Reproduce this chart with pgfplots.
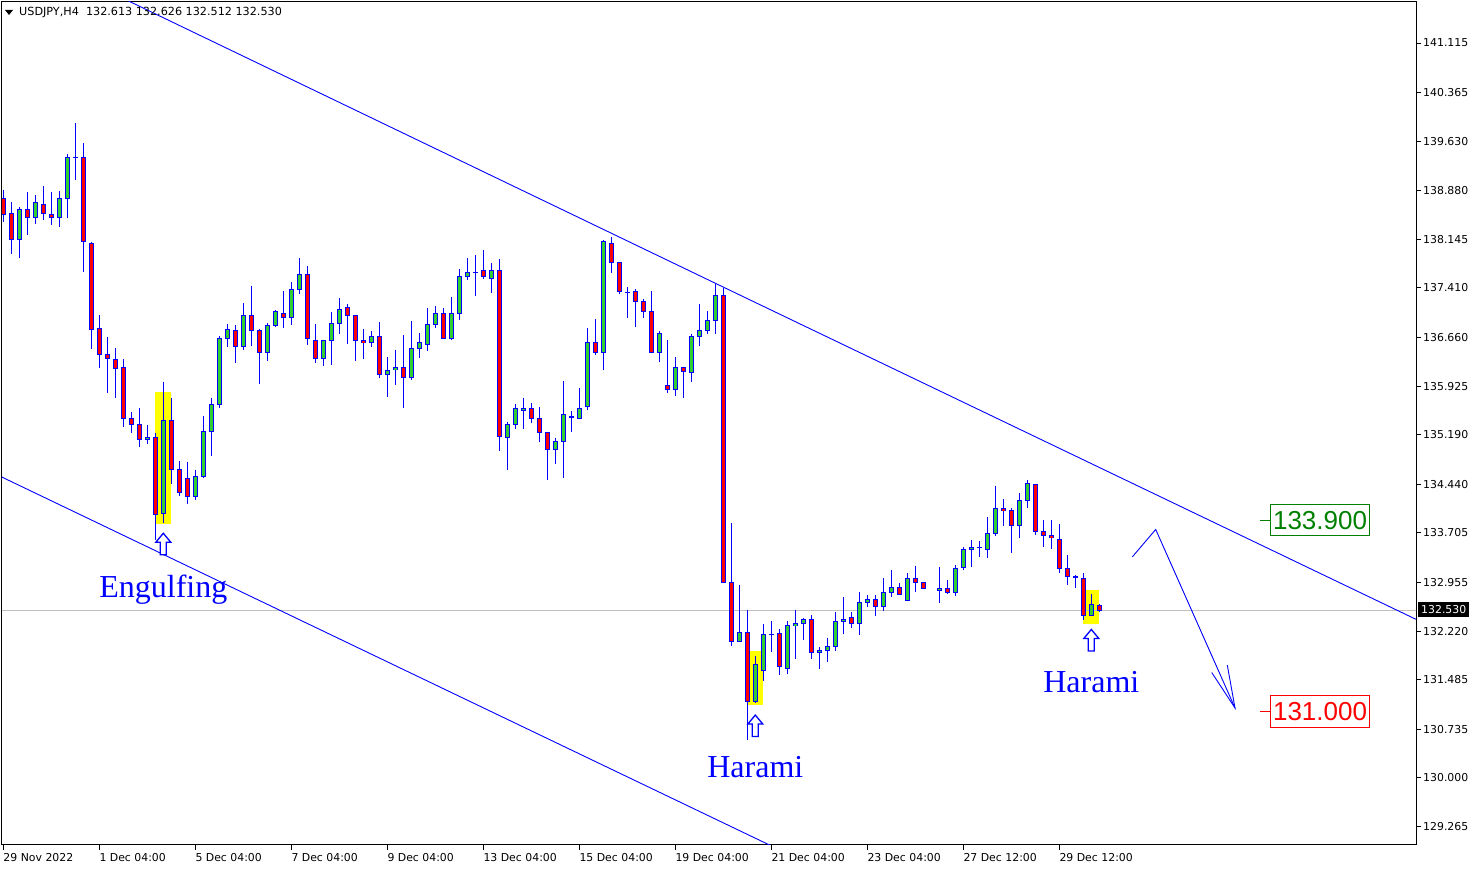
\documentclass[border=0pt]{standalone}
\usepackage{pgfplots}
\usepackage{pgfplotstable}
\pgfplotsset{compat=1.18}
\usepackage{fontspec}
\setmainfont{DejaVu Sans}
\newfontfamily\lib{Liberation Sans}
\newfontfamily\tnr{Liberation Serif}

\definecolor{mtblue}{RGB}{0,0,255}
\definecolor{mtred}{RGB}{255,0,0}
\definecolor{mtgreen}{RGB}{50,205,50}
\definecolor{lblgreen}{RGB}{0,128,0}
\definecolor{pricegray}{RGB}{192,192,192}
\definecolor{hl}{RGB}{255,255,0}

% USDJPY H4, one row per candle (k = bar index)
\pgfplotstableread{
k o h l c
0 138.77 138.89 138.41 138.53
1 138.53 138.71 137.92 138.14
2 138.14 138.63 137.86 138.60
3 138.60 138.86 138.21 138.48
4 138.47 138.82 138.38 138.70
5 138.68 138.95 138.44 138.53
6 138.53 138.86 138.36 138.48
7 138.48 138.88 138.33 138.77
8 138.77 139.44 138.47 139.39
9 139.39 139.91 139.04 139.39
10 139.39 139.60 137.65 138.11
11 138.09 138.11 136.49 136.79
12 136.79 137.00 136.20 136.41
13 136.41 136.67 135.82 136.35
14 136.33 136.50 135.74 136.20
15 136.20 136.33 135.31 135.44
16 135.44 135.53 135.22 135.35
17 135.34 135.59 135.00 135.12
18 135.12 135.34 135.05 135.15
19 135.15 135.22 133.60 133.99
20 134.00 135.99 133.85 135.40
21 135.41 135.74 134.44 134.66
22 134.66 134.79 134.26 134.32
23 134.53 134.78 134.14 134.26
24 134.26 134.66 134.20 134.56
25 134.56 135.48 134.54 135.24
26 135.24 135.74 134.87 135.65
27 135.65 136.68 135.59 136.64
28 136.64 136.86 136.52 136.79
29 136.76 136.85 136.27 136.52
30 136.52 137.18 136.47 136.99
31 136.99 137.44 136.53 136.77
32 136.77 136.79 135.96 136.43
33 136.43 136.88 136.30 136.85
34 136.85 137.08 136.82 137.05
35 137.02 137.36 136.80 136.96
36 136.96 137.50 136.85 137.39
37 137.39 137.86 137.32 137.62
38 137.62 137.74 136.55 136.64
39 136.62 136.86 136.27 136.35
40 136.35 136.62 136.23 136.61
41 136.61 137.05 136.24 136.88
42 136.88 137.26 136.71 137.09
43 137.11 137.17 136.56 136.99
44 136.99 137.00 136.30 136.62
45 136.62 136.79 136.33 136.58
46 136.58 136.76 136.52 136.67
47 136.67 136.89 136.05 136.11
48 136.11 136.36 135.76 136.17
49 136.17 136.47 135.94 136.21
50 136.21 136.70 135.59 136.06
51 136.06 136.91 136.02 136.49
52 136.49 136.73 136.35 136.59
53 136.55 137.11 136.46 136.86
54 136.86 137.14 136.80 137.02
55 137.02 137.11 136.65 136.65
56 136.65 137.27 136.62 137.02
57 137.02 137.70 136.92 137.58
58 137.58 137.86 137.53 137.64
59 137.65 137.91 137.29 137.65
60 137.67 137.98 137.55 137.58
61 137.56 137.79 137.33 137.68
62 137.68 137.85 134.94 135.17
63 135.15 135.38 134.66 135.34
64 135.34 135.65 135.28 135.58
65 135.56 135.74 135.28 135.59
66 135.59 135.67 135.37 135.44
67 135.44 135.61 135.08 135.22
68 135.22 135.23 134.50 134.97
69 134.97 135.14 134.75 135.09
70 135.09 136.00 134.53 135.49
71 135.46 135.55 135.23 135.46
72 135.44 135.90 135.44 135.59
73 135.61 136.80 135.56 136.58
74 136.58 136.94 136.40 136.43
75 136.43 138.14 136.17 138.12
76 138.09 138.18 137.64 137.80
77 137.79 137.80 137.32 137.36
78 137.35 137.42 136.96 137.35
79 137.36 137.39 136.82 137.20
80 137.20 137.24 136.96 137.05
81 137.05 137.36 136.42 136.44
82 136.44 136.76 136.29 136.73
83 135.93 136.62 135.82 135.88
84 135.88 136.36 135.77 136.20
85 136.20 136.21 135.74 136.14
86 136.14 136.71 135.99 136.68
87 136.68 137.17 136.53 136.77
88 136.77 137.06 136.71 136.92
89 136.92 137.47 136.71 137.29
90 137.29 137.41 132.95 132.95
91 132.95 133.85 131.99 132.07
92 132.07 132.92 132.07 132.20
93 132.20 132.54 130.57 131.16
94 131.16 131.84 131.13 131.71
95 131.63 132.33 131.46 132.17
96 132.17 132.37 131.90 132.17
97 132.19 132.25 131.55 131.68
98 131.66 132.37 131.57 132.30
99 132.30 132.54 131.80 132.34
100 132.34 132.42 132.08 132.40
101 132.39 132.46 131.80 131.90
102 131.90 131.98 131.64 131.93
103 131.93 132.11 131.75 131.99
104 131.99 132.51 131.92 132.37
105 132.37 132.73 132.17 132.40
106 132.42 132.51 132.27 132.34
107 132.34 132.82 132.16 132.66
108 132.66 132.76 132.58 132.70
109 132.70 132.76 132.45 132.60
110 132.60 133.02 132.52 132.81
111 132.81 133.14 132.73 132.88
112 132.88 132.95 132.76 132.78
113 132.69 133.10 132.67 133.02
114 133.02 133.20 132.81 132.96
115 132.95 132.96 132.87 132.87
117 132.84 133.19 132.64 132.87
118 132.87 132.99 132.79 132.81
119 132.81 133.22 132.75 133.17
120 133.19 133.50 133.14 133.46
121 133.46 133.60 133.19 133.49
122 133.49 133.58 133.34 133.49
123 133.46 133.94 133.32 133.70
124 133.70 134.41 133.66 134.08
125 134.08 134.22 133.81 134.04
126 134.04 134.08 133.40 133.82
127 133.82 134.31 133.63 134.19
128 134.19 134.50 134.08 134.46
129 134.44 134.44 133.67 133.73
130 133.73 133.90 133.50 133.67
131 133.67 133.90 133.47 133.63
132 133.61 133.84 133.10 133.17
133 133.17 133.37 132.92 133.04
134 133.04 133.07 132.87 133.04
135 133.02 133.10 132.39 132.45
136 132.46 132.79 132.45 132.63
137 132.613 132.626 132.512 132.530
}\candles

\begin{document}
\begin{tikzpicture}
\path[use as bounding box, fill=white] (0pt,0pt) rectangle (1480pt,869pt);
\begin{axis}[
  at={(2pt,24pt)}, anchor=south west,
  scale only axis, width=1414pt, height=843pt,
  xmin=-0.1625, xmax=176.5875, ymin=128.985, ymax=141.736,
  axis line style={line width=1pt, black},
  xtick={0,12,24,36,48,60,72,84,96,108,120,132},
  xticklabels={29 Nov 2022, 1 Dec 04:00, 5 Dec 04:00, 7 Dec 04:00, 9 Dec 04:00, 13 Dec 04:00, 15 Dec 04:00, 19 Dec 04:00, 21 Dec 04:00, 23 Dec 04:00, 27 Dec 12:00, 29 Dec 12:00},
  ytick={141.115,140.365,139.630,138.880,138.145,137.410,136.660,135.925,135.190,134.440,133.705,132.955,132.220,131.485,130.735,130.000,129.265},
  yticklabels={141.115,140.365,139.630,138.880,138.145,137.410,136.660,135.925,135.190,134.440,133.705,132.955,132.220,131.485,130.735,130.000,129.265},
  xtick pos=left, ytick pos=right,
  tick align=outside, major tick length=5pt,
  tick style={black, line width=1pt},
  tick label style={font=\fontsize{10.9}{12}\selectfont, inner sep=0pt},
  xticklabel style={anchor=north west, yshift=-3pt},
  yticklabel style={anchor=west, xshift=2pt},
  candle/.style={draw=none, mark=none, error bars/.cd, y dir=both, y explicit, error mark=none},
]
% highlight boxes
\addplot[fill=hl, draw=none] coordinates {(19,133.84) (21,133.84) (21,135.84) (19,135.84)} --cycle;
\addplot[fill=hl, draw=none] coordinates {(93.1,131.10) (95,131.10) (95,131.92) (93.1,131.92)} --cycle;
\addplot[fill=hl, draw=none] coordinates {(135,132.33) (137,132.33) (137,132.84) (135,132.84)} --cycle;
% current price line
\addplot[pricegray, line width=1pt] coordinates {(-1,132.53) (180,132.53)};
% wicks
\addplot[candle, error bar style={line width=1pt, draw=mtblue}]
  table[x=k, y expr={(\thisrow{h}+\thisrow{l})/2}, y error expr={(\thisrow{h}-\thisrow{l})/2}] {\candles};
% body outline
\addplot[candle, error bar style={line width=5pt, draw=mtblue, line cap=butt}]
  table[x=k, y expr={(\thisrow{o}+\thisrow{c})/2}, y error expr={abs(\thisrow{o}-\thisrow{c})/2+0.0076}] {\candles};
% bullish bodies
\addplot[restrict expr to domain={\thisrow{c}-\thisrow{o}}{0:10},
  candle, error bar style={line width=3pt, draw=mtgreen, line cap=butt}]
  table[x=k, y expr={(\thisrow{o}+\thisrow{c})/2}, y error expr={max(abs(\thisrow{o}-\thisrow{c})/2-0.0076,0)}] {\candles};
% bearish bodies
\addplot[restrict expr to domain={\thisrow{c}-\thisrow{o}}{-10:-0.0001},
  candle, error bar style={line width=3pt, draw=mtred, line cap=butt}]
  table[x=k, y expr={(\thisrow{o}+\thisrow{c})/2}, y error expr={max(abs(\thisrow{o}-\thisrow{c})/2-0.0076,0)}] {\candles};
% channel lines
\addplot[mtblue, line width=0.9pt] coordinates {(10,142.08) (92.09,137.302) (180,132.20)};
\addplot[mtblue, line width=0.9pt] coordinates {(-1,134.60) (-0.075,134.544) (100,128.74)};
% projection arrow
\addplot[mtblue, line width=0.9pt] coordinates {(141.13,133.343) (144.05,133.758) (153.96,131.058)};
\addplot[mtblue, line width=0.9pt] coordinates {(151.05,131.594) (153.96,131.058) (153.0,131.705)};
% price labels
\addplot[lblgreen, line width=1pt] coordinates {(157.09,133.90) (158.4,133.90)};
\addplot[mtred, line width=1pt] coordinates {(157.09,131.00) (158.4,131.00)};
\coordinate (lg) at (axis cs:164.59,133.90);
\coordinate (lr) at (axis cs:164.59,131.00);
\coordinate (a1) at (axis cs:20,133.70);
\coordinate (a2) at (axis cs:94,130.95);
\coordinate (a3) at (axis cs:136,132.245);
\coordinate (t1) at (axis cs:20,132.85);
\coordinate (t2) at (axis cs:94,130.16);
\coordinate (t3) at (axis cs:136,131.45);
\end{axis}
% annotations placed on the axis coordinates
\node[draw=lblgreen, line width=1pt, text=lblgreen, font=\lib\fontsize{26}{28}\selectfont,
  inner xsep=2.3pt, inner ysep=0pt, minimum height=31.7pt] at (lg) {133.900};
\node[draw=mtred, line width=1pt, text=mtred, font=\lib\fontsize{26}{28}\selectfont,
  inner xsep=2.3pt, inner ysep=0pt, minimum height=31.7pt] at (lr) {131.000};
\foreach \p in {a1,a2,a3}{
  \draw[mtblue, line width=1.3pt, fill=white, line join=miter]
    (\p) -- ++(7.5pt,-9pt) -- ++(-4.5pt,0pt) -- ++(0pt,-12.5pt) -- ++(-6pt,0pt)
    -- ++(0pt,12.5pt) -- ++(-4.5pt,0pt) -- cycle;
}
\node[text=mtblue, font=\tnr\fontsize{32}{36}\selectfont] at (t1) {Engulfing};
\node[text=mtblue, font=\tnr\fontsize{32}{36}\selectfont] at (t2) {Harami};
\node[text=mtblue, font=\tnr\fontsize{32}{36}\selectfont] at (t3) {Harami};
% header
\fill[black] (5pt,859pt) -- (13pt,859pt) -- (9pt,854pt) -- cycle;
\node[anchor=west, inner sep=0pt, font=\fontsize{11.2}{12}\selectfont] at (19pt,857pt)
  {USDJPY,H4\ \ 132.613 132.626 132.512 132.530};
% last price tag
\node[anchor=west, fill=black, text=white, inner xsep=3pt, inner ysep=0pt, minimum height=15pt,
  font=\fontsize{10.9}{12}\selectfont] at (1418pt,259pt) {132.530};
\end{tikzpicture}
\end{document}
